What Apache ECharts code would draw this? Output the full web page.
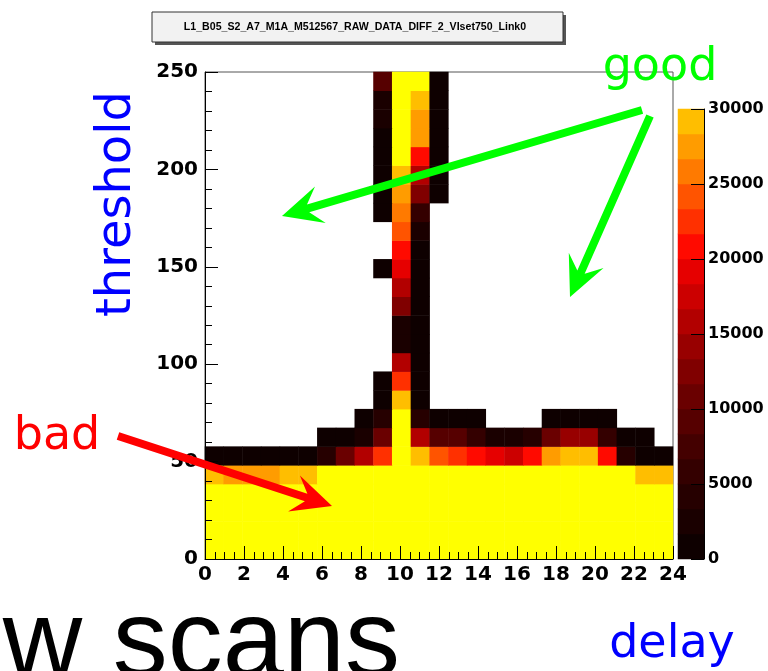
<!DOCTYPE html>
<html>
<head>
<meta charset="utf-8">
<script src="https://cdn.jsdelivr.net/npm/echarts@6/dist/echarts.min.js"></script>
<style>
  html, body { margin: 0; padding: 0; background: #fff; }
  #chart { width: 768px; height: 671px; }
</style>
</head>
<body>
<div id="chart"></div>
<script>
// ---- data (bin contents; 0 = empty bin, not drawn) ----
// x: 25 delay bins spanning 0..24, y: 26 threshold bins spanning 0..250
const xRange = [0, 24];
const yRange = [0, 250];
const xTickStep = 2;
const yTickStep = 50;
const zTicks = [0, 5000, 10000, 15000, 20000, 25000, 30000];

const row25 = [0,0,0,0,0,0,0,0,0,9000,35000,35000,800,0,0,0,0,0,0,0,0,0,0,0,0];
const row24 = [0,0,0,0,0,0,0,0,0,2500,35000,29500,800,0,0,0,0,0,0,0,0,0,0,0,0];
const row23 = [0,0,0,0,0,0,0,0,0,2500,35000,28000,800,0,0,0,0,0,0,0,0,0,0,0,0];
const row22 = [0,0,0,0,0,0,0,0,0,800,35000,27000,800,0,0,0,0,0,0,0,0,0,0,0,0];
const row21 = [0,0,0,0,0,0,0,0,0,800,35000,21000,800,0,0,0,0,0,0,0,0,0,0,0,0];
const row20 = [0,0,0,0,0,0,0,0,0,800,29500,16000,800,0,0,0,0,0,0,0,0,0,0,0,0];
const row19 = [0,0,0,0,0,0,0,0,0,800,28000,12500,800,0,0,0,0,0,0,0,0,0,0,0,0];
const row18 = [0,0,0,0,0,0,0,0,0,800,25800,6500,0,0,0,0,0,0,0,0,0,0,0,0,0];
const row17 = [0,0,0,0,0,0,0,0,0,0,24000,2500,0,0,0,0,0,0,0,0,0,0,0,0,0];
const row16 = [0,0,0,0,0,0,0,0,0,0,21000,800,0,0,0,0,0,0,0,0,0,0,0,0,0];
const row15 = [0,0,0,0,0,0,0,0,0,800,19000,800,0,0,0,0,0,0,0,0,0,0,0,0,0];
const row14 = [0,0,0,0,0,0,0,0,0,0,15500,800,0,0,0,0,0,0,0,0,0,0,0,0,0];
const row13 = [0,0,0,0,0,0,0,0,0,0,12500,800,0,0,0,0,0,0,0,0,0,0,0,0,0];
const row12 = [0,0,0,0,0,0,0,0,0,0,2500,800,0,0,0,0,0,0,0,0,0,0,0,0,0];
const row11 = [0,0,0,0,0,0,0,0,0,0,2500,800,0,0,0,0,0,0,0,0,0,0,0,0,0];
const row10 = [0,0,0,0,0,0,0,0,0,0,15000,800,0,0,0,0,0,0,0,0,0,0,0,0,0];
const row09 = [0,0,0,0,0,0,0,0,0,800,22500,800,0,0,0,0,0,0,0,0,0,0,0,0,0];
const row08 = [0,0,0,0,0,0,0,0,0,800,28500,800,0,0,0,0,0,0,0,0,0,0,0,0,0];
const row07 = [0,0,0,0,0,0,0,0,800,4200,35000,4200,800,800,800,0,0,0,800,800,800,800,0,0,0];
const row06 = [0,0,0,0,0,0,800,800,2500,11500,35000,15000,9000,9000,5500,2500,2500,4200,11500,14000,14000,6500,1500,1500,0];
const row05 = [800,800,800,800,800,800,3500,10800,15000,22500,35000,29500,24000,23000,21200,19500,17500,21000,27500,28500,28500,21000,4200,800,800];
const row04 = [28500,27500,27500,27500,28500,28500,35000,35000,35000,35000,35000,35000,35000,35000,35000,35000,35000,35000,35000,35000,35000,35000,35000,29500,28500];
const row03 = [35000,35000,35000,35000,35000,35000,35000,35000,35000,35000,35000,35000,35000,35000,35000,35000,35000,35000,35000,35000,35000,35000,35000,35000,35000];
const row02 = [35000,35000,35000,35000,35000,35000,35000,35000,35000,35000,35000,35000,35000,35000,35000,35000,35000,35000,35000,35000,35000,35000,35000,35000,35000];
const row01 = [35000,35000,35000,35000,35000,35000,35000,35000,35000,35000,35000,35000,35000,35000,35000,35000,35000,35000,35000,35000,35000,35000,35000,35000,35000];
const row00 = [35000,35000,35000,35000,35000,35000,35000,35000,35000,35000,35000,35000,35000,35000,35000,35000,35000,35000,35000,35000,35000,35000,35000,35000,35000];

const zRows = [row00,row01,row02,row03,row04,row05,row06,row07,row08,row09,row10,row11,row12,
               row13,row14,row15,row16,row17,row18,row19,row20,row21,row22,row23,row24,row25];

// ---- palette (style) ----
const palette = ['#0e0000','#1a0000','#260000','#340000','#440000','#560000','#6a0000','#800000','#980000',
                 '#b20000','#cc0000','#e60000','#ff0a00','#ff3000','#ff5400','#ff7a00','#ff9c00','#ffbe00'];
const overflowColor = '#ffff00';
const zMax = zTicks[zTicks.length - 1];

// ---- build ----
const nX = zRows[0].length, nY = zRows.length;
const xCats = [], yCats = [];
for (let i = 0; i < nX; i++) xCats.push(String(i));
for (let j = 0; j < nY; j++) yCats.push(String(j));
const cells = [];
zRows.forEach((row, j) => row.forEach((v, i) => { if (v > 0) cells.push([i, j, v]); }));

const step = zMax / palette.length;
const pieces = palette.map((c, k) => ({ gte: k * step, lt: (k + 1) * step, color: c }));
pieces.push({ gte: zMax, color: overflowColor });
const barCats = palette.map((c, k) => String(k));
const barCells = palette.map((c, k) => [0, k, (k + 0.5) * step]);

const axisFont = { color: '#000', fontFamily: 'DejaVu Sans', fontWeight: 'bold', fontSize: 20 };

function arrow(x1, y1, x2, y2, color, w, hl, hw) {
  const dx = x2 - x1, dy = y2 - y1, L = Math.hypot(dx, dy);
  const ux = dx / L, uy = dy / L, nx = -uy, ny = ux;
  const bx = x2 - ux * hl, by = y2 - uy * hl;
  const mx = x2 - ux * hl * 0.68, my = y2 - uy * hl * 0.68;
  const pts = [
    [x1 + nx * w / 2, y1 + ny * w / 2],
    [mx + nx * w / 2, my + ny * w / 2],
    [bx + nx * hw / 2, by + ny * hw / 2],
    [x2, y2],
    [bx - nx * hw / 2, by - ny * hw / 2],
    [mx - nx * w / 2, my - ny * w / 2],
    [x1 - nx * w / 2, y1 - ny * w / 2]
  ];
  return { type: 'polygon', z: 100, shape: { points: pts }, style: { fill: color } };
}
function label(text, x, y, font, fill, rot, align) {
  const a = align || 'center';
  return { type: 'text', z: 101, x: x, y: y, rotation: rot || 0,
    style: { text: text, font: font, fill: fill, align: a, verticalAlign: 'middle',
             textAlign: a, textVerticalAlign: 'middle' } };
}

const chart = echarts.init(document.getElementById('chart'), null, { renderer: 'canvas' });
chart.setOption({
  animation: false,
  backgroundColor: '#ffffff',
  grid: [
    { left: 205, top: 72, width: 468, height: 487, show: true, borderColor: '#555', borderWidth: 1, backgroundColor: 'transparent' },
    { left: 678, top: 109, width: 26, height: 450 }
  ],
  xAxis: [
    { type: 'category', gridIndex: 0, data: xCats, show: false },
    { type: 'value', gridIndex: 0, position: 'bottom', min: xRange[0], max: xRange[1], interval: xTickStep, z: 5,
      axisLine: { show: true, lineStyle: { color: '#000', width: 1 } },
      axisTick: { show: true, inside: true, length: 13, lineStyle: { color: '#000' } },
      minorTick: { show: true, splitNumber: 4, length: 7, lineStyle: { color: '#000' } },
      splitLine: { show: false }, minorSplitLine: { show: false },
      axisLabel: Object.assign({ margin: 6 }, axisFont) },
    { type: 'category', gridIndex: 1, data: ['z'], show: false }
  ],
  yAxis: [
    { type: 'category', gridIndex: 0, data: yCats, show: false },
    { type: 'value', gridIndex: 0, position: 'left', min: yRange[0], max: yRange[1], interval: yTickStep, z: 5,
      axisLine: { show: true, lineStyle: { color: '#000', width: 1 } },
      axisTick: { show: true, inside: true, length: 13, lineStyle: { color: '#000' } },
      minorTick: { show: true, splitNumber: 5, length: 7, lineStyle: { color: '#000' } },
      splitLine: { show: false }, minorSplitLine: { show: false },
      axisLabel: Object.assign({ margin: 7 }, axisFont) },
    { type: 'category', gridIndex: 1, data: barCats, show: false },
    { type: 'value', gridIndex: 1, position: 'right', min: 0, max: zMax, interval: zTicks[1] - zTicks[0], z: 5,
      axisLine: { show: true, lineStyle: { color: '#000', width: 1 } },
      axisTick: { show: true, inside: true, length: 13, lineStyle: { color: '#000' } },
      splitLine: { show: false },
      axisLabel: { margin: 4, color: '#000', fontFamily: 'DejaVu Sans', fontWeight: 'bold', fontSize: 16,
                   formatter: v => String(v) } }
  ],
  visualMap: { type: 'piecewise', show: false, dimension: 2, seriesIndex: [0, 1], pieces: pieces },
  series: [
    { type: 'heatmap', xAxisIndex: 0, yAxisIndex: 0, data: cells, emphasis: { disabled: true }, itemStyle: { borderWidth: 0 } },
    { type: 'heatmap', xAxisIndex: 2, yAxisIndex: 2, data: barCells, emphasis: { disabled: true }, itemStyle: { borderWidth: 0 } }
  ],
  graphic: [
    { type: 'rect', z: 99, shape: { x: 155, y: 15, width: 411, height: 30 }, style: { fill: '#555' } },
    { type: 'rect', z: 100, shape: { x: 152, y: 12, width: 411, height: 30 }, style: { fill: '#f2f2f2', stroke: '#333', lineWidth: 1 } },
    label('L1_B05_S2_A7_M1A_M512567_RAW_DATA_DIFF_2_VIset750_Link0', 355, 27, 'bold 10.6px "Liberation Sans"', '#000'),
    label('threshold', 118, 204, '48px "DejaVu Sans"', '#0000ff', Math.PI / 2),
    label('good', 660, 68, '46px "DejaVu Sans"', '#00ff00'),
    label('bad', 57, 437, '46px "DejaVu Sans"', '#ff0000'),
    label('delay', 672, 645, '46px "DejaVu Sans"', '#0000ff'),
    label('w scans', 400, 646, '110px "Liberation Sans"', '#000', 0, 'right'),
    arrow(642, 110, 282, 216, '#00ff00', 8, 40, 38),
    arrow(650, 116, 570, 297, '#00ff00', 8, 40, 38),
    arrow(118, 436, 332, 506, '#ff0000', 8, 40, 38)
  ]
});
</script>
</body>
</html>
